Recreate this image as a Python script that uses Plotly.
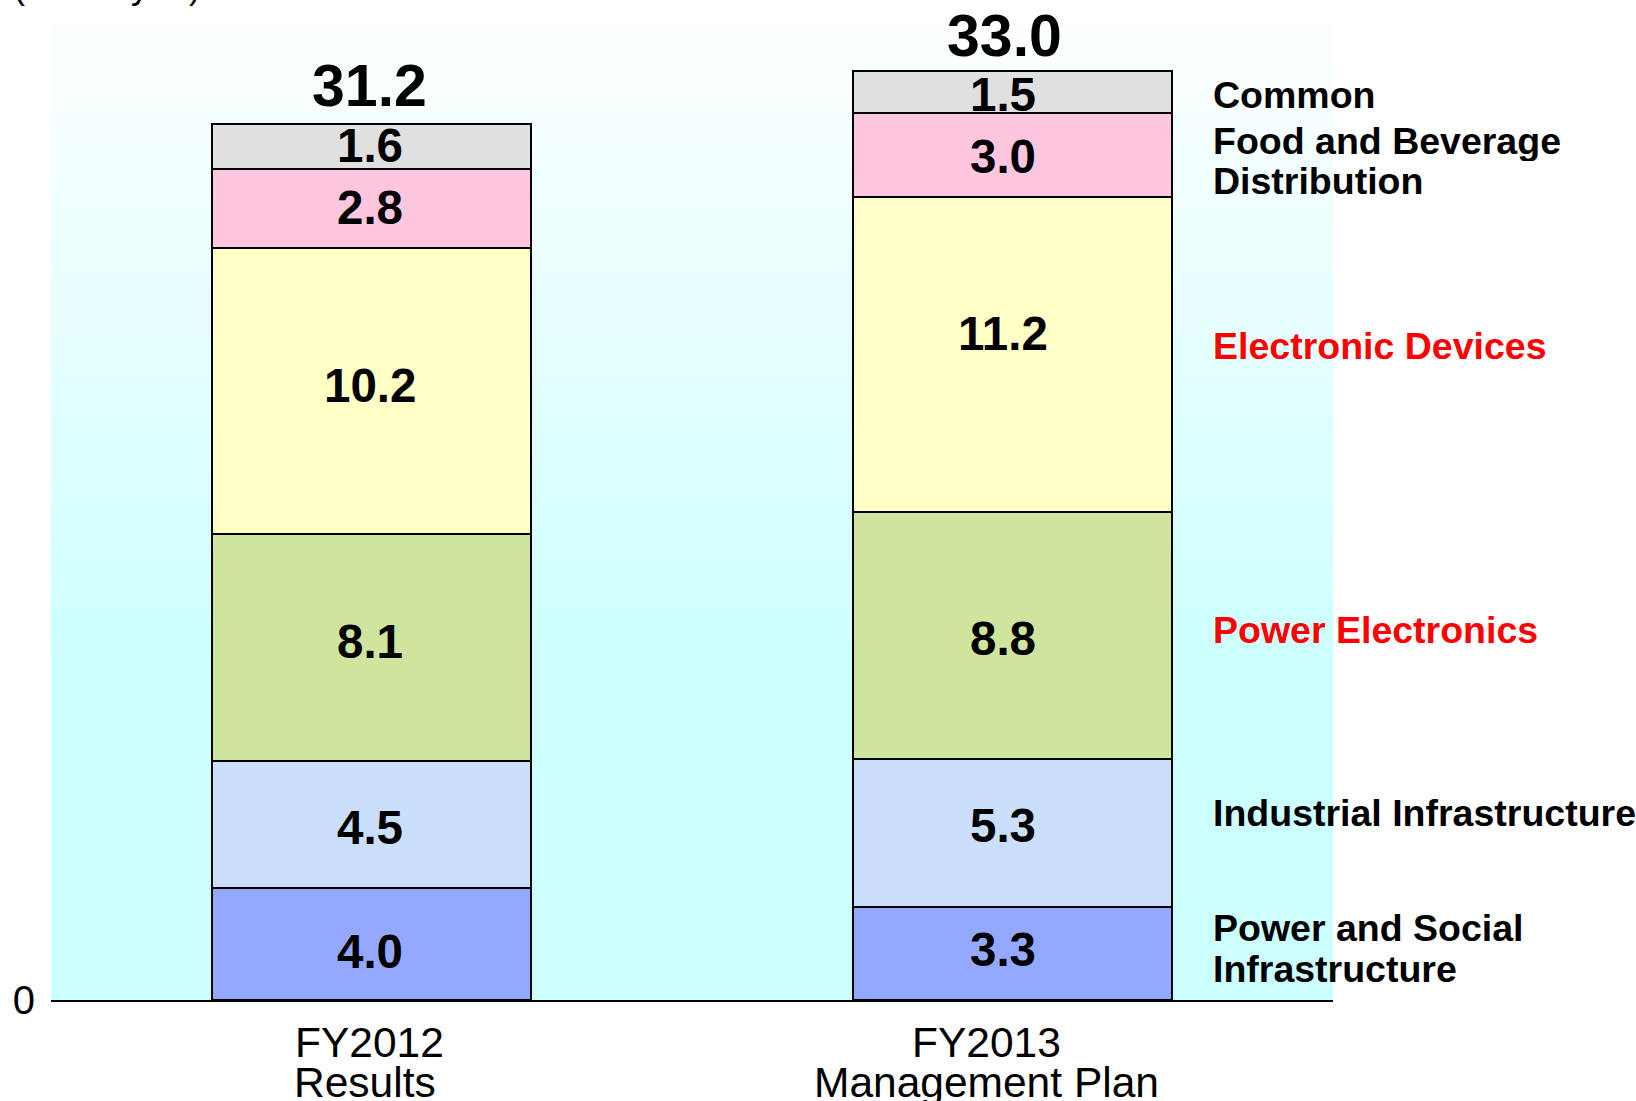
import plotly.graph_objects as go

# ---- data ----
categories = ["FY2012<br>Results", "FY2013<br>Management Plan"]
segments = [
    "Power and Social Infrastructure",
    "Industrial Infrastructure",
    "Power Electronics",
    "Electronic Devices",
    "Food and Beverage Distribution",
    "Common",
]
seg_labels = [
    "Power and Social<br>Infrastructure",
    "Industrial Infrastructure",
    "Power Electronics",
    "Electronic Devices",
    "Food and Beverage<br>Distribution",
    "Common",
]
power_social = [4.0, 3.3]
industrial = [4.5, 5.3]
power_electronics = [8.1, 8.8]
electronic_devices = [10.2, 11.2]
food_beverage = [2.8, 3.0]
common = [1.6, 1.5]
totals = [31.2, 33.0]
unit_label = "(Billion yen)"

series = [power_social, industrial, power_electronics, electronic_devices, food_beverage, common]

# ---- styles ----
colors = ["#93a9ff", "#c9dffc", "#cfe49c", "#ffffc6", "#ffc6e0", "#e0e0e0"]
label_colors = ["black", "black", "red", "red", "black", "black"]
label_yshift = [5, 20, 5, 8, -6, -3]
# small per-label offsets (px) of value texts, per category
value_xshift = [-2, -10]
value_yshift = [[-8, -3, 6, 5, 1, 1], [4, 7, -3, 21, -1, -3]]
total_xshift = [-2, -8]
cat_line_xshift = [[-2, -7], [-26, -26]]
FONT = "Liberation Sans, Arial, Helvetica, sans-serif"

W, H = 1636, 1101
L, R, T, B = 51, 303, 0, 101
PX_PER_UNIT = 28.07
ymax = (H - T - B) / PX_PER_UNIT

fig = go.Figure()

for name, vals, col in zip(segments, series, colors):
    fig.add_trace(go.Bar(
        x=categories, y=vals, name=name,
        marker=dict(color=col, line=dict(color="black", width=2)),
        showlegend=False, hoverinfo="skip",
    ))

# background gradient (white at top -> light cyan lower down)
n_bands = 60
top_c = (255, 255, 255)
bot_c = (204, 255, 255)
g_end = 0.33
shapes = [dict(type="rect", xref="paper", yref="paper", x0=0, x1=1, y0=0, y1=g_end,
               fillcolor="rgb(204,255,255)", line=dict(width=0), layer="below")]
for i in range(n_bands):
    y0 = g_end + (1 - g_end) * i / n_bands
    y1 = g_end + (1 - g_end) * (i + 1) / n_bands
    t = (i + 0.5) / n_bands
    c = tuple(round(bot_c[k] + (top_c[k] - bot_c[k]) * t) for k in range(3))
    shapes.append(dict(type="rect", xref="paper", yref="paper", x0=0, x1=1, y0=y0, y1=y1 + 0.002,
                       fillcolor=f"rgb{c}", line=dict(width=0), layer="below"))

annotations = []
# value labels inside segments
for ci, cat in enumerate(categories):
    cum = 0.0
    for si, vals in enumerate(series):
        v = vals[ci]
        annotations.append(dict(x=cat, y=cum + v / 2, xref="x", yref="y", text=f"{v:.1f}",
                                showarrow=False, yanchor="middle",
                                xshift=value_xshift[ci], yshift=value_yshift[ci][si],
                                font=dict(family=FONT, size=47.5, color="black", weight="bold")))
        cum += v

# totals above bars
for ci, (cat, tot) in enumerate(zip(categories, totals)):
    annotations.append(dict(x=cat, y=tot, xref="x", yref="y", text=f"{tot:.1f}",
                            showarrow=False, yanchor="bottom", yshift=3, xshift=total_xshift[ci],
                            font=dict(family=FONT, size=59, color="black", weight="bold")))

# category labels under the axis (two tight lines)
CAT_LINE_GAP = 40
for ci, cat in enumerate(categories):
    for j, line in enumerate(cat.split("<br>")):
        annotations.append(dict(x=cat, y=0, xref="x", yref="y", text=line,
                                showarrow=False, yanchor="middle", height=38,
                                xshift=cat_line_xshift[ci][j],
                                yshift=-(42 + j * CAT_LINE_GAP),
                                font=dict(family=FONT, size=42.5, color="black")))

# segment labels at right, aligned to FY2013 segment centers
LBL_LINE_GAP = 40.7
cum = 0.0
for lab, vals, lc, ys in zip(seg_labels, series, label_colors, label_yshift):
    center = cum + vals[1] / 2
    cum += vals[1]
    lines = lab.split("<br>")
    n = len(lines)
    for j, line in enumerate(lines):
        off = ((n - 1) / 2 - j) * LBL_LINE_GAP
        annotations.append(dict(x=0.9047, y=center, xref="paper", yref="y", text=line,
                                showarrow=False, xanchor="left", yanchor="middle", align="left",
                                yshift=ys + off, height=40,
                                font=dict(family=FONT, size=37.5, color=lc, weight="bold")))

# unit label (cut off at top, as in the original)
annotations.append(dict(x=0.0, y=1, xref="paper", yref="paper", text=unit_label,
                        showarrow=False, xanchor="left", yanchor="bottom", xshift=-40, yshift=-8,
                        font=dict(family=FONT, size=36, color="black")))

fig.update_layout(
    width=W, height=H,
    margin=dict(l=L, r=R, t=T, b=B, pad=0),
    barmode="stack", bargap=0.502,
    paper_bgcolor="white", plot_bgcolor="rgba(0,0,0,0)",
    shapes=shapes, annotations=annotations,
    font=dict(family=FONT, color="black"),
    xaxis=dict(showline=True, linecolor="black", linewidth=2, ticks="",
               showticklabels=False, automargin=False,
               showgrid=False, zeroline=False, range=[-0.5, 1.5]),
    yaxis=dict(range=[0, ymax], showgrid=False, zeroline=False, showline=False,
               automargin=False,
               tickvals=[0], ticktext=["0"], ticks="", ticklabelstandoff=15,
               tickfont=dict(family=FONT, size=40, color="black")),
)

fig.write_html("out.html", config={"displayModeBar": False},
               post_script="document.body.style.margin='0px';document.body.style.overflow='hidden';")
